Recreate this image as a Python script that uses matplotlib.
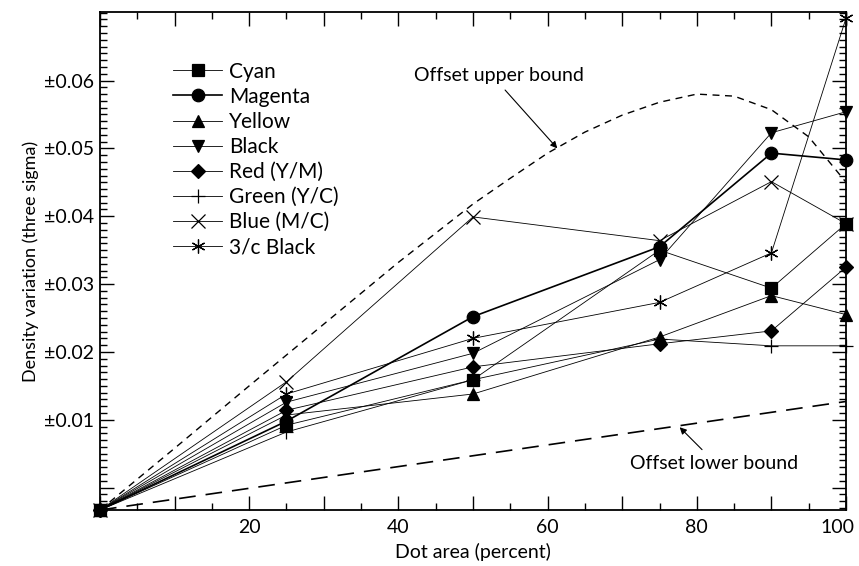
import matplotlib
matplotlib.use("Agg")
import matplotlib.pyplot as plt
from matplotlib.ticker import MultipleLocator, FixedLocator

plt.rcParams['font.family'] = ['Lato', 'DejaVu Sans']

# dot area (percent)
dot_area = [0, 25, 50, 75, 90, 100]

# density variation per ink (three sigma)
cyan = [-0.0033, 0.0092, 0.0159, 0.0350, 0.0294, 0.0389]
magenta = [-0.0033, 0.0098, 0.0252, 0.0355, 0.0493, 0.0483]
yellow = [-0.0033, 0.0107, 0.0138, 0.0222, 0.0283, 0.0255]
black = [-0.0033, 0.0126, 0.0198, 0.0336, 0.0523, 0.0554]
red = [-0.0033, 0.0114, 0.0178, 0.0212, 0.0231, 0.0325]
green = [-0.0033, 0.0082, 0.0159, 0.0219, 0.0209, 0.0209]
blue = [-0.0033, 0.0156, 0.0399, 0.0364, 0.0451, 0.0389]
black3c = [-0.0033, 0.0138, 0.0220, 0.0273, 0.0346, 0.0692]

# offset bounds
upper_x = [0, 10, 20, 30, 40, 50, 55, 60, 65, 70, 75, 80, 85, 90, 95, 100]
upper_y = [-0.0033, 0.0058, 0.0150, 0.0241, 0.0332, 0.0418, 0.0456, 0.0493,
           0.0524, 0.0549, 0.0568, 0.0580, 0.0577, 0.0557, 0.0517, 0.0450]
lower_x = [0, 100]
lower_y = [-0.0033, 0.0127]

series = [
    ("Cyan", cyan, "s", 0.6),
    ("Magenta", magenta, "o", 1.2),
    ("Yellow", yellow, "^", 0.6),
    ("Black", black, "v", 0.6),
    ("Red (Y/M)", red, "D", 0.6),
    ("Green (Y/C)", green, "+", 0.6),
    ("Blue (M/C)", blue, "x", 0.6),
    ("3/c Black", black3c, (6, 2, 0), 0.6),
]

fig = plt.figure(figsize=(8.59, 5.66), dpi=100)
ax = fig.add_axes([0.1164, 0.0989, 0.8685, 0.8799])

for name, vals, mk, lw in series:
    ms = 9
    if mk in ("+", "x", (6, 2, 0)):
        ms = 10
    if mk == "D":
        ms = 7.5
    ax.plot(dot_area, vals, color="black", lw=lw, marker=mk, ms=ms,
            mew=0.9, label=name, clip_on=False)

ax.plot(upper_x, upper_y, color="black", lw=1.0, ls=(0, (5, 4)))
ax.plot(lower_x, lower_y, color="black", lw=1.2, ls=(0, (10, 6)))

# annotations
ax.text(53.5, 0.0608, "Offset upper bound", fontsize=14, ha="center", va="center")
ax.annotate("", xy=(61.3, 0.0500), xytext=(54.3, 0.0586),
            arrowprops=dict(arrowstyle="-|>", color="black", lw=0.8,
                            shrinkA=0, shrinkB=0))
ax.text(82.3, 0.0036, "Offset lower bound", fontsize=14, ha="center", va="center")
ax.annotate("", xy=(77.7, 0.0089), xytext=(80.7, 0.0056),
            arrowprops=dict(arrowstyle="-|>", color="black", lw=0.8,
                            shrinkA=0, shrinkB=0))

ax.set_xlim(0, 100)
ax.set_ylim(-0.0033, 0.0701)
ax.xaxis.set_major_locator(MultipleLocator(10))
ax.xaxis.set_minor_locator(MultipleLocator(5))
ax.set_xticklabels([])
ax.yaxis.set_major_locator(FixedLocator([0.0, 0.01, 0.02, 0.03, 0.04, 0.05, 0.06]))
ax.yaxis.set_minor_locator(MultipleLocator(0.001))

xt = [20, 40, 60, 80, 100]
for v in xt:
    xpos = v if v < 100 else 98.9
    ax.text(xpos, -0.0046, str(v), fontsize=14, ha="center", va="top")
ylabels = ["", "\u00b10.01", "\u00b10.02", "\u00b10.03", "\u00b10.04",
           "\u00b10.05", "\u00b10.06"]
ax.set_yticklabels(ylabels, fontsize=14)

ax.tick_params(which="both", direction="in", top=True, right=True, width=1)
ax.tick_params(which="major", length=10, pad=4)
ax.tick_params(which="minor", length=5)
for s in ax.spines.values():
    s.set_linewidth(1.3)

ax.set_xlabel("Dot area (percent)", fontsize=14, labelpad=20)
ax.set_ylabel("Density variation (three sigma)", fontsize=13, labelpad=4)

leg = ax.legend(loc="upper left", bbox_to_anchor=(0.087, 0.917), frameon=False,
                fontsize=15, handlelength=2.35, handletextpad=0.35,
                labelspacing=0.245, borderpad=0.4, borderaxespad=0)

fig.savefig("out.png", dpi=100)
